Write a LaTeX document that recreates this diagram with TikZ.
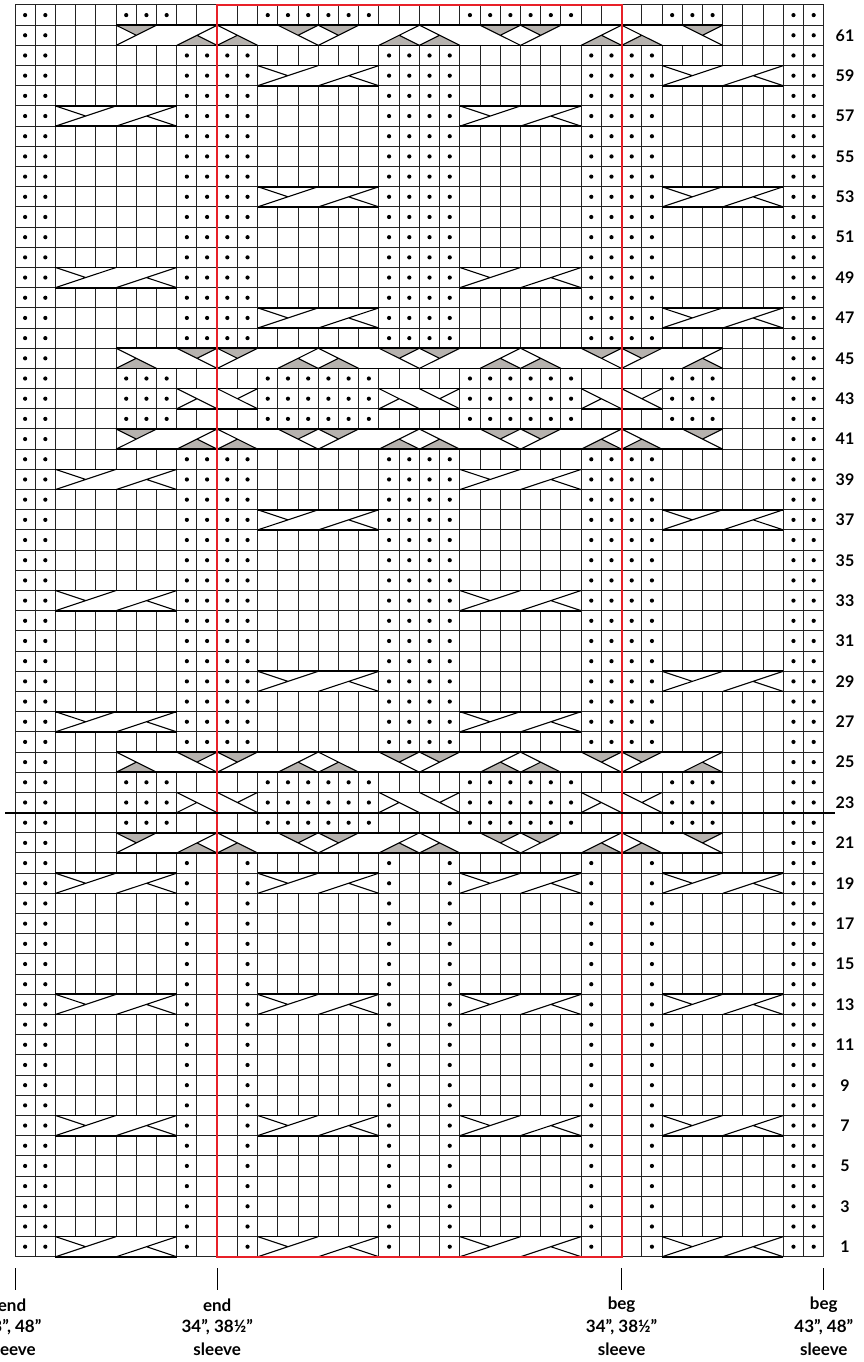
\documentclass[tikz,border=0pt]{standalone}
\usepackage{fontspec}
\setmainfont{Lato}
\definecolor{gridc}{RGB}{35,35,35}
\definecolor{purlgray}{RGB}{182,178,174}
\definecolor{redbox}{RGB}{232,32,40}
\tikzset{
  gridline/.style={draw=gridc, line width=1pt},
  cabline/.style={draw=black, line width=1.1pt},
  cabedge/.style={draw=black, line width=1.7pt},
  purldot/.style={fill=black},
  shade/.style={fill=purlgray},
  rowlabel/.style={font=\fontsize{16}{18}\selectfont\bfseries},
  sizelabel/.style={font=\fontsize{17}{19}\selectfont\bfseries},
  tickline/.style={draw=black, line width=0.9pt},
  redline/.style={draw=redbox, line width=1.8pt},
  divline/.style={draw=black, line width=1.8pt},
}
\newcommand\setrow[1]{\pgfmathsetmacro\ya{62-#1}\pgfmathsetmacro\yb{63-#1}\pgfmathsetmacro\ym{62.5-#1}}
\newcommand\prow[2]{\foreach \cc in {#2}{\fill[purldot] ({\cc+0.5},{62.5-#1}) circle[radius=2.1pt];}}
\newcommand\cabsix[2]{\setrow{#2}\pgfmathsetmacro\xa{#1}\pgfmathsetmacro\xb{#1+6}\pgfmathsetmacro\xm{#1+3}\pgfmathsetmacro\xq{#1+1.5}\pgfmathsetmacro\xr{#1+4.5}%
  \fill[white] (\xa,\ya) rectangle (\xb,\yb);
  \draw[gridline] (\xa,\ya) -- (\xa,\yb) (\xb,\ya) -- (\xb,\yb);
  \draw[cabline] (\xa,\yb) -- (\xm,\ya) (\xm,\yb) -- (\xb,\ya) (\xa,\ya) -- (\xq,\ym) (\xb,\yb) -- (\xr,\ym);
  \draw[cabedge] (\xa,\ya) -- (\xb,\ya) (\xa,\yb) -- (\xb,\yb);}
\newcommand\cabfour[2]{\setrow{#2}\pgfmathsetmacro\xa{#1}\pgfmathsetmacro\xb{#1+4}\pgfmathsetmacro\xm{#1+2}\pgfmathsetmacro\xq{#1+1}\pgfmathsetmacro\xr{#1+3}%
  \fill[white] (\xa,\ya) rectangle (\xb,\yb);
  \draw[gridline] (\xa,\ya) -- (\xa,\yb) (\xb,\ya) -- (\xb,\yb);
  \draw[cabline] (\xa,\ya) -- (\xm,\yb) (\xm,\ya) -- (\xb,\yb) (\xa,\yb) -- (\xq,\ym) (\xb,\ya) -- (\xr,\ym);
  \draw[cabedge] (\xa,\ya) -- (\xb,\ya) (\xa,\yb) -- (\xb,\yb);}
% band pieces, two cells wide, need \setrow first
\newcommand\sGT[1]{\pgfmathsetmacro\pa{#1}\pgfmathsetmacro\pb{#1+2}\pgfmathsetmacro\pm{#1+1}%
  \fill[shade] (\pa,\ya) -- (\pb,\ya) -- (\pm,\ym) -- cycle;
  \draw[cabline] (\pa,\yb) -- (\pb,\ya) (\pa,\ya) -- (\pm,\ym);}
\newcommand\sGB[1]{\pgfmathsetmacro\pa{#1}\pgfmathsetmacro\pb{#1+2}\pgfmathsetmacro\pm{#1+1}%
  \fill[shade] (\pa,\yb) -- (\pb,\yb) -- (\pm,\ym) -- cycle;
  \draw[cabline] (\pa,\yb) -- (\pb,\ya) (\pb,\yb) -- (\pm,\ym);}
\newcommand\bGT[1]{\pgfmathsetmacro\pa{#1}\pgfmathsetmacro\pb{#1+2}\pgfmathsetmacro\pm{#1+1}%
  \fill[shade] (\pa,\ya) -- (\pb,\ya) -- (\pm,\ym) -- cycle;
  \draw[cabline] (\pa,\ya) -- (\pb,\yb) (\pb,\ya) -- (\pm,\ym);}
\newcommand\bGB[1]{\pgfmathsetmacro\pa{#1}\pgfmathsetmacro\pb{#1+2}\pgfmathsetmacro\pm{#1+1}%
  \fill[shade] (\pa,\yb) -- (\pb,\yb) -- (\pm,\ym) -- cycle;
  \draw[cabline] (\pa,\ya) -- (\pb,\yb) (\pa,\yb) -- (\pm,\ym);}
\newcommand\bandbox{\fill[white] (5,\ya) rectangle (35,\yb);
  \draw[gridline] (5,\ya) -- (5,\yb) (35,\ya) -- (35,\yb);}
\newcommand\bandedge{\draw[cabedge] (5,\ya) -- (35,\ya) (5,\yb) -- (35,\yb);}
\newcommand\bandout[1]{\setrow{#1}\bandbox
  \sGT{5}\sGB{8}\bGB{10}\bGT{13}\sGT{15}\sGB{18}\bGB{20}\bGT{23}\sGT{25}\sGB{28}\bGB{30}\bGT{33}%
  \bandedge}
\newcommand\bandin[1]{\setrow{#1}\bandbox
  \bGB{5}\bGT{8}\sGT{10}\sGB{13}\bGB{15}\bGT{18}\sGT{20}\sGB{23}\bGB{25}\bGT{28}\sGT{30}\sGB{33}%
  \bandedge}
\begin{document}
\begin{tikzpicture}[x=1pt,y=-1pt]
\useasboundingbox (0,0) rectangle (864,1362);
\fill[white] (0,0) rectangle (864,1362);
\begin{scope}[shift={(15,5)}, x=20.22pt, y=-20.19pt]
  % grid
  \foreach \i in {0,...,40} {\draw[gridline] (\i,0) -- (\i,62);}
  \foreach \j in {0,...,62} {\draw[gridline] (0,\j) -- (40,\j);}
  % purl dots
  \foreach \r in {1,...,20} {\prow{\r}{0,1,8,11,18,21,28,31,38,39}}
  \foreach \r in {22,23,24,42,43,44,62} {\prow{\r}{0,1,5,6,7,12,13,14,15,16,17,22,23,24,25,26,27,32,33,34,38,39}}
  \foreach \r in {26,...,40} {\prow{\r}{0,1,8,9,10,11,18,19,20,21,28,29,30,31,38,39}}
  \foreach \r in {46,...,60} {\prow{\r}{0,1,8,9,10,11,18,19,20,21,28,29,30,31,38,39}}
  \foreach \r in {21,25,41,45,61} {\prow{\r}{0,1,38,39}}
  % six-stitch cables
  \foreach \r in {1,7,13,19} {\foreach \a in {2,12,22,32} {\cabsix{\a}{\r}}}
  \foreach \r in {27,33,39,49,57} {\cabsix{2}{\r}\cabsix{22}{\r}}
  \foreach \r in {29,37,47,53,59} {\cabsix{12}{\r}\cabsix{32}{\r}}
  % four-stitch cables
  \foreach \r in {23,43} {\cabfour{8}{\r}\cabfour{18}{\r}\cabfour{28}{\r}}
  % travelling bands
  \foreach \r in {21,41,61} {\bandout{\r}}
  \foreach \r in {25,45} {\bandin{\r}}
  % repeat box
  \draw[redline] (10,0) rectangle (30,62);
\end{scope}
% divider line between rows 22 and 23
\draw[divline] (5,812.6) -- (835,812.6);
% row numbers
\foreach \r in {1,3,...,61} {\node[rowlabel] (n\r) at (845,{5+(62.5-\r)*20.19}) {\r};}
% ticks
\foreach \t/\xx in {a/15,b/217.2,c/621.6,d/823.8} {\draw[tickline] (\xx,1268) -- (\xx,1290);}
% size labels
\node[sizelabel] (e1) at (12,1305) {end};
\node[sizelabel] (e2) at (12,1327) {43", 48"};
\node[sizelabel] (e3) at (12,1349) {sleeve};
\node[sizelabel] (f1) at (217.2,1305) {end};
\node[sizelabel] (f2) at (217.2,1327) {34", 38½"};
\node[sizelabel] (f3) at (217.2,1349) {sleeve};
\node[sizelabel] (g1) at (621.6,1305) {beg};
\node[sizelabel] (g2) at (621.6,1327) {34", 38½"};
\node[sizelabel] (g3) at (621.6,1349) {sleeve};
\node[sizelabel] (h1) at (823.8,1305) {beg};
\node[sizelabel] (h2) at (823.8,1327) {43", 48"};
\node[sizelabel] (h3) at (823.8,1349) {sleeve};
\end{tikzpicture}
\end{document}
